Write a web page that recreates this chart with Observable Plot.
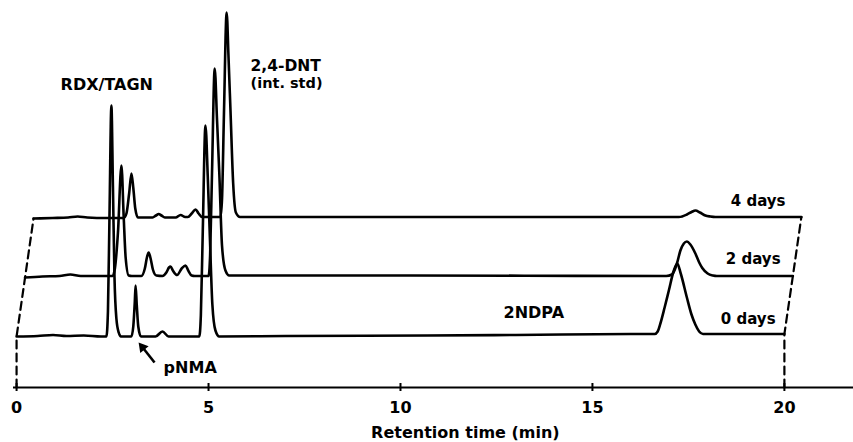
<!DOCTYPE html>
<html><head><meta charset="utf-8">
<script src="https://cdn.jsdelivr.net/npm/d3@7"></script>
<script src="https://cdn.jsdelivr.net/npm/@observablehq/plot@0.6"></script>
<style>
body{margin:0;background:#fff;}
</style></head>
<body><div id="chart"></div>
<script>
// Chromatogram traces: [retention time (min), signal above baseline]
const dayLabels = ["0 days", "2 days", "4 days"];
const shiftMin = [0, 0.221, 0.442];   // perspective shift of each stacked trace
const baseLevel = [51, 110, 169];     // stacking offset of each trace

const trace0 = [
  [0,0],[0.55,0.5],[0.95,1.5],[1.3,0.5],[1.75,1],[2.2,0],
  [2.34,0],[2.38,25],[2.42,120],[2.47,231],[2.51,150],[2.55,60],[2.60,18],[2.66,4],[2.72,0],
  [2.99,0],[3.04,10],[3.08,35],[3.10,51],[3.13,32],[3.17,10],[3.24,0],
  [3.62,0],[3.80,5],[3.96,0],[4.5,0],
  [4.76,0],[4.80,21],[4.85,105],[4.92,211],[4.98,160],[5.03,105],[5.10,32],[5.18,6],[5.28,0],
  [7,0.5],[10.7,1],[13,1.5],[16.0,2.5],[16.62,2.5],
  [16.70,5],[16.77,13],[16.88,29],[16.99,46],[17.12,66],[17.21,73],[17.30,63],[17.46,39],[17.58,22],[17.68,12],[17.78,5],[17.88,2.5],
  [18.6,2.5],[20,2.5]
];
const trace2 = [
  [0,0],[0.45,1],[0.9,1.5],[1.18,3],[1.45,1.5],[1.9,1.5],
  [2.28,1.5],[2.34,9],[2.42,45],[2.51,112],[2.57,60],[2.62,20],[2.70,2],[2.78,1.5],
  [3.03,1.5],[3.12,9],[3.18,21],[3.22,25],[3.27,19],[3.33,8],[3.42,2],
  [3.58,1.5],[3.68,5],[3.75,10],[3.79,11],[3.85,7],[3.96,2.5],[4.08,9],[4.18,12],[4.25,7],[4.34,2],[4.42,1.5],
  [4.78,1.5],[4.82,22],[4.87,105],[4.94,209],[5.00,158],[5.06,104],[5.13,32],[5.22,7],[5.32,2],
  [7,2],[10,2],[13,1.8],[16.70,1.5],
  [16.85,3],[16.98,14],[17.07,27],[17.16,34],[17.24,36],[17.33,33],[17.46,24],[17.56,15],[17.64,9.5],[17.78,4],[17.92,2],[18.02,1.5],
  [20,1.5]
];
const trace4 = [
  [0,0],[0.5,0.5],[0.9,1],[1.15,2],[1.4,1],[1.9,0.5],
  [2.35,0.5],[2.42,5],[2.49,25],[2.55,45],[2.60,30],[2.65,10],[2.72,1],
  [3.10,1],[3.19,3],[3.26,4.5],[3.33,3],[3.42,1],
  [3.70,1],[3.83,3.5],[3.95,1.5],[4.02,1.5],[4.12,5],[4.22,9],[4.30,5],[4.39,1.5],
  [4.87,1.5],[4.91,20],[4.96,105],[5.03,206],[5.08,160],[5.13,108],[5.20,35],[5.27,6],[5.38,1.5],
  [8,1.5],[12,1.5],[16.81,1.5],
  [17.02,4],[17.14,6.5],[17.24,8],[17.36,6],[17.50,3],[17.63,2],[17.76,1.5],
  [20,1.5]
];

const xTicks = [0, 5, 10, 15, 20];
const axisTitle = "Retention time (min)";

const dayLabelX = [19.77, 19.90, 20.03];
const dayLabelY = [64, 124, 182];

const peakNames = ["RDX/TAGN", "2,4-DNT", "(int. std)", "2NDPA", "pNMA"];
const peakNameX = [1.146, 6.095, 6.095, 12.685, 3.83];
const peakNameY = [298, 317, 300, 70, 15];
const peakNameSize = [16, 15.5, 14.5, 16, 16];

const arrowTail = [3.594, 25];
const arrowHead = [3.28, 40.2];

// ---- build tables ----
const traces = [trace0, trace2, trace4];
const points = traces.flatMap((tr, i) =>
  tr.map(([t, s]) => ({day: dayLabels[i], x: t + shiftMin[i], y: s + baseLevel[i]})));
const firstPts = traces.map((tr, i) => ({x: tr[0][0] + shiftMin[i], y: tr[0][1] + baseLevel[i]}));
const lastPts = traces.map((tr, i) => {const p = tr[tr.length - 1]; return {x: p[0] + shiftMin[i], y: p[1] + baseLevel[i]};});
const leftDash = [{x: firstPts[0].x, y: 0}, ...firstPts];
const rightDash = [{x: lastPts[0].x, y: 0}, ...lastPts];
const dayText = dayLabels.map((d, i) => ({d, x: dayLabelX[i], y: dayLabelY[i]}));
const nameText = peakNames.map((n, i) => ({n, x: peakNameX[i], y: peakNameY[i], s: peakNameSize[i]}));

const chart = Plot.plot({
  width: 853,
  height: 442,
  marginLeft: 13,
  marginRight: 0,
  marginTop: 12,
  marginBottom: 55,
  x: {domain: [-0.08, 21.8], label: null},
  y: {domain: [0, 375], axis: null, label: null},
  style: {fontFamily: "'DejaVu Sans', sans-serif", fontWeight: "bold", fontSize: "16px", background: "#fff", color: "#000"},
  marks: [
    Plot.ruleY([0], {stroke: "#000", strokeWidth: 2}),
    Plot.ruleX(xTicks, {y1: -4, y2: 4, stroke: "#000", strokeWidth: 2}),
    Plot.axisX(xTicks, {tickSize: 0, tickPadding: 14, fontSize: 16, fontWeight: "bold", label: null}),
    Plot.text([{t: axisTitle, x: 11.69, y: -50}], {x: "x", y: "y", text: "t", lineAnchor: "bottom", fontSize: 16, fontWeight: "bold", fill: "#000"}),
    Plot.line(leftDash, {x: "x", y: "y", stroke: "#000", strokeWidth: 2.2, strokeDasharray: "8,5"}),
    Plot.line(rightDash, {x: "x", y: "y", stroke: "#000", strokeWidth: 2.2, strokeDasharray: "8,5"}),
    Plot.line(points, {x: "x", y: "y", z: "day", curve: "monotone-x", stroke: "#000", strokeWidth: 2.6, strokeLinejoin: "round"}),
    Plot.text(dayText, {x: "x", y: "y", text: "d", textAnchor: "end", lineAnchor: "bottom", fontSize: 15, fontWeight: "bold", fill: "#000"}),
    Plot.text(nameText, {x: "x", y: "y", text: "n", textAnchor: "start", lineAnchor: "bottom", fontSize: d => d.s, fontWeight: "bold", fill: "#000"}),
    Plot.link([{x1: arrowTail[0], y1: arrowTail[1], x2: arrowHead[0], y2: arrowHead[1]}], {x1: "x1", y1: "y1", x2: "x2", y2: "y2", stroke: "#000", strokeWidth: 2.6}),
    Plot.dot([{x: arrowHead[0], y: arrowHead[1]}], {x: "x", y: "y", symbol: "triangle", r: 4, fill: "#000", stroke: "none", rotate: -39})
  ]
});
document.getElementById("chart").appendChild(chart);
</script>
</body></html>
